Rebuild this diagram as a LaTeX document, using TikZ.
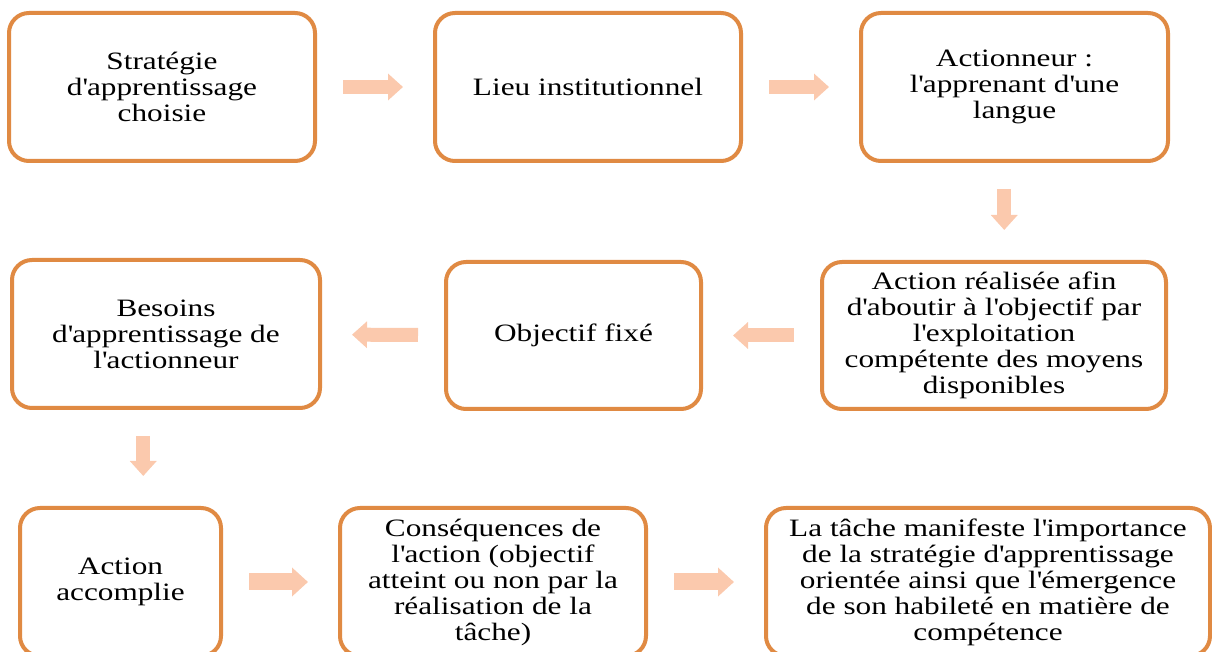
\documentclass[tikz,border=0pt]{standalone}
\usepackage{fontspec}
\setmainfont{Liberation Serif}[FakeStretch=1.25]
\usetikzlibrary{arrows.meta,calc}
\definecolor{boxorange}{HTML}{E08A43}
\definecolor{arrpeach}{HTML}{FBC9AD}
\newcommand{\ap}{\textquotesingle}

\begin{document}
\begin{tikzpicture}[x=0.5pt,y=-0.5pt,
	box/.style={draw=boxorange,line width=2pt,rounded corners=10pt,fill=white,align=center,inner sep=0pt,font=\fontsize{12.5}{13}\selectfont},
	arr/.style={draw=arrpeach,line width=7pt,-{Triangle[length=7.5pt,width=13pt]},shorten <=13pt,shorten >=15pt},
	bigarr/.style={arr,line width=8.5pt,-{Triangle[length=8pt,width=14pt]}}]
	\useasboundingbox (0,0) rectangle (1212,652);

	\node[box,minimum width=153pt,minimum height=74pt] at (162,87) (a1) {Stratégie\\d\ap apprentissage\\choisie};
	\node[box,minimum width=153pt,minimum height=74pt] at (588,87) (a2) {Lieu institutionnel};
	\node[box,minimum width=153.5pt,minimum height=74pt] at (1014.5,87) (a3) {Actionneur :\\l\ap apprenant d\ap une\\langue};

	\node[box,minimum width=172pt,minimum height=73.5pt] at (994,335.5) (b3) {Action réalisée afin\\d\ap aboutir à l\ap objectif par\\l\ap exploitation\\compétente des moyens\\disponibles};
	\node[box,minimum width=127.5pt,minimum height=73.5pt] at (573.5,335.5) (b2) {Objectif fixé};
	\node[box,minimum width=154pt,minimum height=74pt] at (166,334) (b1) {Besoins\\d\ap apprentissage de\\l\ap actionneur};

	\node[box,minimum width=100.5pt,minimum height=74pt] at (120.5,582) (c1) {Action\\accomplie};
	\node[box,minimum width=153pt,minimum height=74pt] at (493,582) (c2) {Conséquences de\\l\ap action (objectif\\atteint ou non par la\\réalisation de la\\tâche)};
	\node[box,minimum width=222pt,minimum height=74pt] at (988,582) (c3) {La tâche manifeste l\ap importance\\de la stratégie d\ap apprentissage\\orientée ainsi que l\ap émergence\\de son habileté en matière de\\compétence};

	% the steps
	\draw[arr] (a1) -- (a2);
	\draw[arr] (a2) -- (a3);
	\coordinate (m3) at ($(a3.south)!.5!(b3.north)$);
	\draw[arr] (a3.south -| m3) -- (b3.north -| m3);
	\draw[arr] (b3) -- (b2);
	\draw[arr] (b2) -- (b1);
	\coordinate (m1) at ($(b1.south)!.5!(c1.north)$);
	\draw[arr] (b1.south -| m1) -- (c1.north -| m1);
	\draw[bigarr] (c1) -- (c2);
	\draw[bigarr] (c2) -- (c3);
\end{tikzpicture}
\end{document}
